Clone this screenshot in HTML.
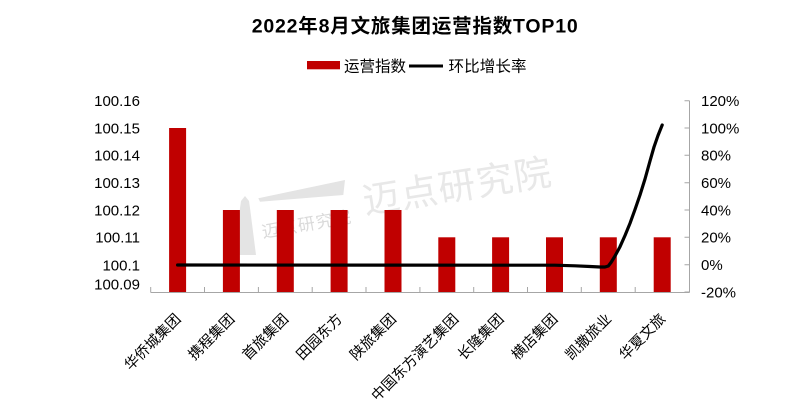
<!DOCTYPE html>
<html>
<head>
<meta charset="utf-8">
<style>
html,body{margin:0;padding:0;background:#fff;}
svg{display:block;}
text{font-family:"Liberation Sans","Noto Sans CJK SC",sans-serif;}
</style>
</head>
<body>
<svg width="800" height="416" viewBox="0 0 800 416" xmlns="http://www.w3.org/2000/svg">
<rect width="800" height="416" fill="#fff"/>

<!-- watermark -->
<g fill="#e4e4e4">
  <polygon points="241,201 245,196 249,201 250,208 256,255 236,255 240,208"/>
  <polygon points="258.3,198.3 345,180 343.3,195 260,201.7"/>
</g>
<text x="263" y="238" font-size="17" fill="#dadada" transform="rotate(-10 263 238)" textLength="90" lengthAdjust="spacing">迈点研究院</text>
<text x="365" y="214" font-size="37" fill="#e8e8e8" transform="rotate(-9 365 214)" textLength="190" lengthAdjust="spacing">迈点研究院</text>

<!-- title -->
<text x="251.7" y="32.3" font-size="19.5" font-weight="bold" fill="#000" textLength="326" lengthAdjust="spacing">2022年8月文旅集团运营指数TOP10</text>

<!-- legend -->
<rect x="307" y="61" width="33" height="8.3" fill="#c00000"/>
<text x="344" y="71.5" font-size="15.5" fill="#000" textLength="62" lengthAdjust="spacing">运营指数</text>
<line x1="409" y1="66" x2="443" y2="66" stroke="#000" stroke-width="3"/>
<text x="448.5" y="71.5" font-size="15.5" fill="#000" textLength="78" lengthAdjust="spacing">环比增长率</text>

<!-- left axis labels -->
<g font-size="15" fill="#000" text-anchor="end">
  <text x="140" y="106">100.16</text>
  <text x="140" y="133.4">100.15</text>
  <text x="140" y="160.7">100.14</text>
  <text x="140" y="188">100.13</text>
  <text x="140" y="215.4">100.12</text>
  <text x="140" y="242.7">100.11</text>
  <text x="140" y="270.3">100.1</text>
  <text x="140" y="289.3">100.09</text>
</g>

<!-- right axis labels -->
<g font-size="15" fill="#000" text-anchor="start">
  <text x="701" y="106">120%</text>
  <text x="701" y="133.3">100%</text>
  <text x="701" y="160.6">80%</text>
  <text x="701" y="188">60%</text>
  <text x="701" y="215.3">40%</text>
  <text x="701" y="242.6">20%</text>
  <text x="701" y="270">0%</text>
  <text x="701" y="297.3">-20%</text>
</g>

<!-- bars -->
<g fill="#c00000">
  <rect x="169.1" y="128" width="17" height="164"/>
  <rect x="222.9" y="210" width="17" height="82"/>
  <rect x="276.8" y="210" width="17" height="82"/>
  <rect x="330.6" y="210" width="17" height="82"/>
  <rect x="384.5" y="210" width="17" height="82"/>
  <rect x="438.3" y="237.3" width="17" height="54.7"/>
  <rect x="492.1" y="237.3" width="17" height="54.7"/>
  <rect x="546.0" y="237.3" width="17" height="54.7"/>
  <rect x="599.8" y="237.3" width="17" height="54.7"/>
  <rect x="653.7" y="237.3" width="17" height="54.7"/>
</g>

<!-- axes -->
<g stroke="#a6a6a6" stroke-width="1" fill="none">
  <line x1="150.7" y1="292.5" x2="689.5" y2="292.5"/>
  <line x1="689.5" y1="100.7" x2="689.5" y2="292.5"/>
  <!-- x ticks (upward) -->
  <path d="M150.7,287V292.5 M204.5,287V292.5 M258.4,287V292.5 M312.2,287V292.5 M366,287V292.5 M419.9,287V292.5 M473.7,287V292.5 M527.5,287V292.5 M581.3,287V292.5 M635.2,287V292.5"/>
  <!-- right ticks (leftward) -->
  <path d="M684.5,100.7H689.5 M684.5,128H689.5 M684.5,155.3H689.5 M684.5,182.7H689.5 M684.5,210H689.5 M684.5,237.3H689.5 M684.5,264.7H689.5 M684.5,292H689.5"/>
</g>

<!-- line series -->
<polyline fill="none" stroke="#000" stroke-width="3.2" stroke-linecap="round" stroke-linejoin="round"
 points="177.6,265 554.5,265.2 575,265.8 590,266.5 600,267 605,267 608.3,266 611,262.5 615,256 620,246.7 625,235.5 630,223.3 635,209.5 640,195 645,179 650,161 654,147 658,135.5 662.2,125"/>

<!-- x labels -->
<g font-size="14.5" fill="#000" text-anchor="end">
  <text transform="translate(181.6 319.7) rotate(-45)">华侨城集团</text>
  <text transform="translate(235.4 319.7) rotate(-45)">携程集团</text>
  <text transform="translate(289.3 319.7) rotate(-45)">首旅集团</text>
  <text transform="translate(343.1 319.7) rotate(-45)">田园东方</text>
  <text transform="translate(397 319.7) rotate(-45)">陕旅集团</text>
  <text transform="translate(459.4 319.7) rotate(-45)">中国东方演艺集团</text>
  <text transform="translate(504.6 319.7) rotate(-45)">长隆集团</text>
  <text transform="translate(558.5 319.7) rotate(-45)">横店集团</text>
  <text transform="translate(612.3 319.7) rotate(-45)">凯撒旅业</text>
  <text transform="translate(666.2 319.7) rotate(-45)">华夏文旅</text>
</g>
</svg>
</body>
</html>
